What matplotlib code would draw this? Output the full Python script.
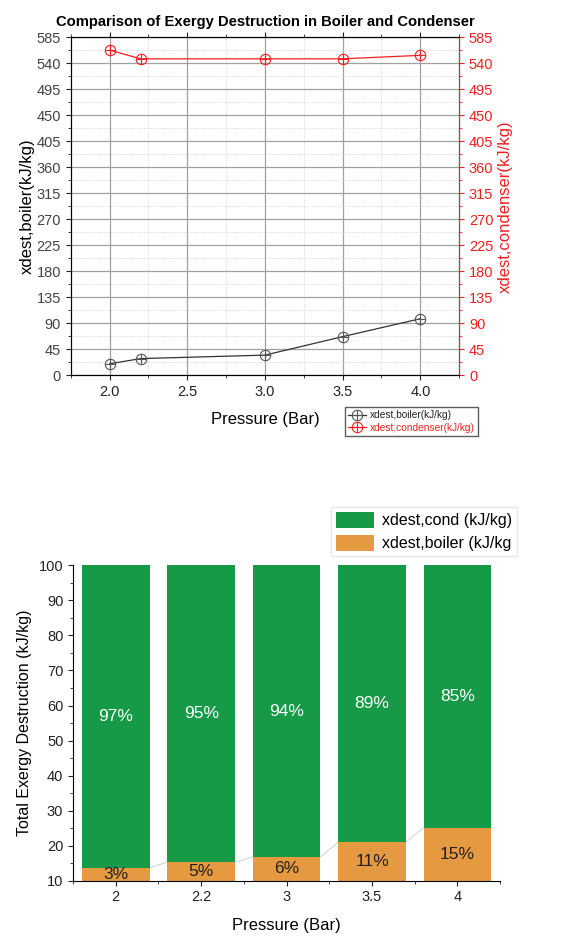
import numpy as np
import matplotlib
matplotlib.use('Agg')
import matplotlib.pyplot as plt
from matplotlib.ticker import MultipleLocator

plt.rcParams['font.family'] = ['Liberation Sans', 'DejaVu Sans']

# =============================================================================
# Data
# =============================================================================
pressure = [2.0, 2.2, 3.0, 3.5, 4.0]
xdest_boiler = [20, 29, 35, 67, 98]
xdest_condenser = [563, 548, 548, 548, 554]

bar_labels = ['2', '2.2', '3', '3.5', '4']
boiler_share = [13.7, 15.3, 16.8, 21.0, 25.2]
cond_share = [100 - b for b in boiler_share]
cond_pct = ['97%', '95%', '94%', '89%', '85%']
boiler_pct = ['3%', '5%', '6%', '11%', '15%']

GREEN = '#179a48'
ORANGE = '#e59a41'
RED = '#f02020'
DARK = '#333333'

fig = plt.figure(figsize=(5.62, 9.36), dpi=100)

# =============================================================================
# Top: line plot with two y axes
# =============================================================================
ax1 = fig.add_axes([0.126, 0.599, 0.691, 0.361])
b_line, = ax1.plot(pressure, xdest_boiler, color=DARK, lw=0.9, marker='o',
                   ms=7.5, mfc='none', mec='#555555', mew=0.8)
b_plus, = ax1.plot(pressure, xdest_boiler, ls='none', marker='+', ms=7.5,
                   mec='#555555', mew=0.8)
ax1.set_xlim(1.75, 4.25)
ax1.set_ylim(0, 585)
ax1.xaxis.set_major_locator(MultipleLocator(0.5))
ax1.xaxis.set_minor_locator(MultipleLocator(0.25))
ax1.yaxis.set_major_locator(MultipleLocator(45))
ax1.yaxis.set_minor_locator(MultipleLocator(22.5))
ax1.xaxis.set_major_formatter(plt.FormatStrFormatter('%.1f'))
ax1.grid(which='major', color='#a0a0a0', lw=0.9)
ax1.grid(which='minor', color='#c8c8c8', lw=0.6, ls=':')
ax1.set_axisbelow(True)
ax1.tick_params(axis='both', which='both', labelsize=10.5, colors='#222222')
ax1.tick_params(axis='y', labelcolor='#444444')
ax1.tick_params(axis='x', which='both', top=True, direction='out')
ax1.set_xlabel('Pressure (Bar)', fontsize=12, labelpad=9)
ax1.set_ylabel('xdest,boiler(kJ/kg)', fontsize=12, labelpad=1)
ax1.set_title('Comparison of Exergy Destruction in Boiler and Condenser',
              fontsize=10.6, fontweight='bold', pad=8)

ax2 = ax1.twinx()
c_line, = ax2.plot(pressure, xdest_condenser, color=RED, lw=0.9, marker='o',
                   ms=7.5, mfc='none', mec=RED, mew=0.8)
c_plus, = ax2.plot(pressure, xdest_condenser, ls='none', marker='+', ms=7.5,
                   mec=RED, mew=0.8)
ax2.set_ylim(0, 585)
ax2.yaxis.set_major_locator(MultipleLocator(45))
ax2.yaxis.set_minor_locator(MultipleLocator(22.5))
ax2.tick_params(axis='y', which='both', colors=RED, labelsize=10.5)
ax2.spines['right'].set_color(RED)
ax2.set_ylabel('xdest,condenser(kJ/kg)', fontsize=12, color=RED, labelpad=3)

leg = ax1.legend([(b_line, b_plus), (c_line, c_plus)],
                 ['xdest,boiler(kJ/kg)', 'xdest,condenser(kJ/kg)'],
                 loc='upper left', bbox_to_anchor=(0.705, -0.095),
                 fontsize=7.3, frameon=True, fancybox=False, edgecolor='#333333',
                 handlelength=1.8, handletextpad=0.4, borderpad=0.3,
                 labelspacing=0.2, borderaxespad=0)
for txt, col in zip(leg.get_texts(), ['#222222', RED]):
    txt.set_color(col)

# =============================================================================
# Bottom: stacked percentage bars
# =============================================================================
ax3 = fig.add_axes([0.130, 0.059, 0.760, 0.337])
xpos = np.arange(len(bar_labels))
width = 0.79
ax3.bar(xpos, boiler_share, width, color=ORANGE, label='xdest,boiler (kJ/kg',
        zorder=2)
ax3.bar(xpos, cond_share, width, bottom=boiler_share, color=GREEN,
        label='xdest,cond (kJ/kg)', zorder=2)
# thin lines joining the orange tops
for i in range(len(xpos) - 1):
    ax3.plot([xpos[i] + width / 2, xpos[i + 1] - width / 2],
             [boiler_share[i], boiler_share[i + 1]],
             color='#d0d0d0', lw=0.7, zorder=1)
ax3.set_xlim(-0.5, 4.5)
ax3.set_ylim(10, 100)
ax3.set_xticks(xpos)
ax3.set_xticklabels(bar_labels)
ax3.xaxis.set_minor_locator(MultipleLocator(0.5))
ax3.yaxis.set_major_locator(MultipleLocator(10))
ax3.yaxis.set_minor_locator(MultipleLocator(5))
ax3.spines['top'].set_visible(False)
ax3.spines['right'].set_visible(False)
ax3.tick_params(axis='both', which='both', labelsize=10.5, colors='#222222')
ax3.set_xlabel('Pressure (Bar)', fontsize=12, labelpad=10)
ax3.set_ylabel('Total Exergy Destruction (kJ/kg)', fontsize=11.5, labelpad=5)

for i in xpos:
    ax3.text(i, (boiler_share[i] + 100) / 2, cond_pct[i], color='white',
             ha='center', va='center', fontsize=12.5, zorder=3)
    ax3.text(i, (boiler_share[i] + 10) / 2, boiler_pct[i], color='#222222',
             ha='center', va='center', fontsize=12.5, zorder=3)

h, l = ax3.get_legend_handles_labels()
ax3.legend(h[::-1], l[::-1], loc='lower right', bbox_to_anchor=(1.04, 1.03),
           fontsize=11.5, frameon=True, fancybox=False, edgecolor='#e0e0e0',
           handlelength=2.4, handleheight=1.2, handletextpad=0.5,
           borderpad=0.3, labelspacing=0.4, borderaxespad=0)

fig.savefig('out.png', dpi=100)
plt.close(fig)
